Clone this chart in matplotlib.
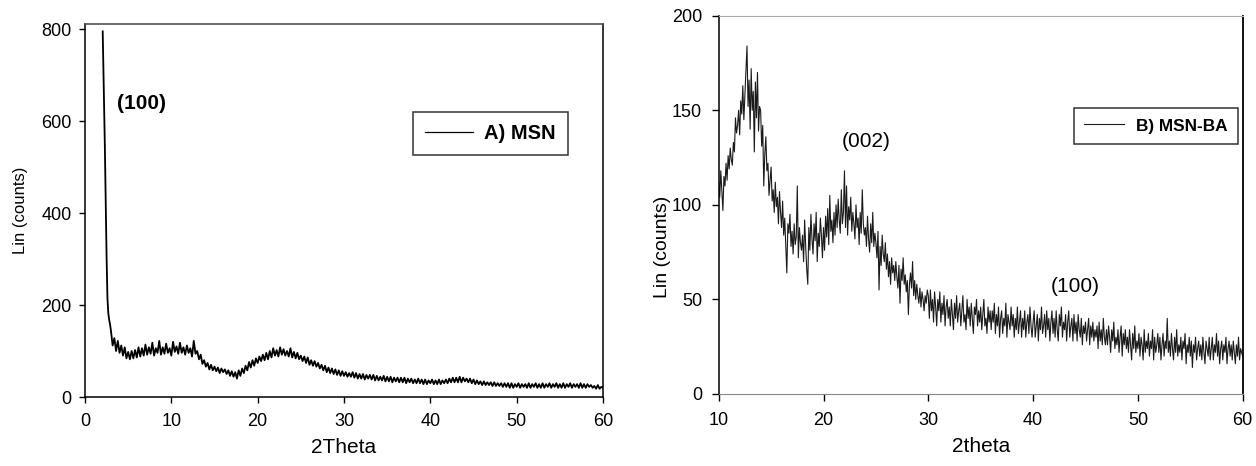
import numpy as np
import matplotlib
matplotlib.use("Agg")
import matplotlib.pyplot as plt

plt.rcParams['font.family'] = ['Liberation Sans', 'DejaVu Sans']

# ---------------- Panel A : MSN ----------------
msn_head_x = [2.05, 2.1, 2.2, 2.3, 2.4, 2.5, 2.6, 2.7, 2.8, 2.9]
msn_head_y = [795, 745, 655, 545, 425, 305, 215, 182, 168, 158]
msn_x_start, msn_x_step = 3.0, 0.2
msn_y = [
    145, 112, 128, 100, 122, 96, 112, 90, 108, 84,        # 3.0-4.8
    98, 82, 100, 84, 102, 86, 108, 88, 106, 90,           # 5.0-6.8
    114, 92, 108, 94, 118, 90, 106, 96, 122, 92,          # 7.0-8.8
    108, 94, 116, 96, 106, 90, 120, 98, 110, 94,          # 9.0-10.8
    118, 96, 108, 92, 112, 96, 106, 88, 122, 94,          # 11.0-12.8
    100, 82, 92, 72, 80, 66, 74, 60, 70, 58,              # 13.0-14.8
    66, 56, 64, 52, 62, 54, 60, 50, 58, 46,               # 15.0-16.8
    56, 44, 54, 40, 58, 46, 62, 52, 68, 58,               # 17.0-18.8
    76, 64, 80, 68, 84, 74, 88, 78, 92, 80,               # 19.0-20.8
    96, 82, 100, 86, 106, 90, 102, 88, 108, 92,           # 21.0-22.8
    104, 90, 100, 88, 106, 86, 98, 84, 96, 82,            # 23.0-24.8
    90, 78, 88, 74, 86, 70, 80, 68, 78, 66,               # 25.0-26.8
    74, 62, 70, 58, 68, 54, 64, 52, 62, 50,               # 27.0-28.8
    60, 48, 58, 46, 56, 46, 54, 44, 52, 44,               # 29.0-30.8
    54, 42, 52, 40, 50, 40, 50, 38, 48, 40,               # 31.0-32.8
    48, 38, 48, 36, 46, 36, 44, 36, 46, 34,               # 33.0-34.8
    44, 34, 44, 32, 42, 34, 42, 32, 42, 32,               # 35.0-36.8
    42, 30, 40, 32, 40, 30, 38, 30, 40, 30,               # 37.0-38.8
    38, 28, 38, 28, 36, 30, 38, 28, 36, 28,               # 39.0-40.8
    38, 28, 36, 30, 38, 30, 40, 32, 42, 32,               # 41.0-42.8
    42, 32, 44, 32, 42, 34, 40, 32, 40, 30,               # 43.0-44.8
    38, 28, 36, 28, 34, 26, 34, 26, 32, 26,               # 45.0-46.8
    32, 24, 32, 24, 30, 24, 30, 22, 30, 22,               # 47.0-48.8
    30, 20, 30, 20, 28, 22, 30, 20, 28, 22,               # 49.0-50.8
    28, 20, 30, 20, 28, 22, 30, 20, 28, 20,               # 51.0-52.8
    30, 20, 28, 22, 30, 20, 28, 22, 30, 20,               # 53.0-54.8
    28, 20, 30, 20, 28, 22, 30, 20, 28, 22,               # 55.0-56.8
    28, 20, 30, 20, 28, 20, 28, 22, 26, 20,               # 57.0-58.8
    24, 18, 26, 18, 22, 20,                               # 59.0-60.0
]

# ---------------- Panel B : MSN-BA ----------------
ba_x_start, ba_x_step = 10.0, 0.1
ba_y = [
    112, 104, 118, 107, 97, 115, 110, 122, 113, 126,      # 10
    119, 130, 124, 121, 133, 128, 146, 138, 142, 150,     # 11
    137, 155, 148, 163, 145, 158, 171, 184, 152, 166,     # 12
    140, 172, 150, 160, 128, 165, 146, 170, 139, 152,     # 13
    150, 131, 142, 110, 127, 136, 118, 122, 105, 113,     # 14
    120, 102, 108, 96, 112, 99, 104, 90, 107, 96,         # 15
    88, 102, 84, 93, 79, 64, 90, 85, 95, 78,              # 16
    86, 74, 90, 79, 83, 110, 72, 88, 80, 76,              # 17
    84, 70, 92, 78, 66, 58, 88, 76, 95, 82,               # 18
    74, 90, 81, 96, 70, 85, 78, 93, 84, 72,               # 19
    88, 76, 94, 83, 98, 79, 105, 86, 92, 80,              # 20
    96, 84, 100, 88, 103, 92, 85, 108, 90, 96,            # 21
    118, 88, 110, 84, 99, 92, 104, 86, 96, 90,            # 22
    82, 100, 88, 93, 79, 96, 85, 108, 90, 84,             # 23
    88, 78, 94, 82, 75, 90, 80, 96, 78, 85,               # 24
    80, 72, 86, 55, 78, 68, 84, 74, 70, 80,               # 25
    66, 74, 62, 70, 58, 72, 64, 68, 60, 70,               # 26
    62, 56, 68, 48, 66, 60, 72, 58, 63, 54,               # 27
    60, 42, 58, 64, 56, 70, 52, 60, 50, 58,               # 28
    52, 48, 56, 46, 54, 50, 44, 52, 48, 55,               # 29
    52, 40, 55, 44, 50, 38, 54, 46, 36, 50,               # 30
    44, 54, 38, 48, 42, 52, 36, 46, 50, 40,               # 31
    46, 36, 50, 42, 34, 48, 40, 52, 38, 44,               # 32
    48, 36, 44, 52, 38, 42, 34, 50, 40, 46,               # 33
    36, 48, 40, 32, 46, 42, 50, 36, 44, 38,               # 34
    46, 34, 42, 50, 36, 40, 32, 46, 38, 44,               # 35
    34, 44, 38, 48, 32, 42, 36, 46, 30, 40,               # 36
    44, 32, 40, 36, 48, 30, 42, 38, 34, 46,               # 37
    36, 42, 30, 40, 34, 46, 32, 38, 44, 30,               # 38
    40, 34, 44, 30, 38, 42, 32, 46, 36, 30,               # 39
    38, 44, 30, 36, 42, 28, 40, 34, 46, 32,               # 40
    36, 42, 30, 44, 34, 40, 28, 38, 44, 32,               # 41
    40, 30, 44, 34, 28, 42, 36, 46, 30, 38,               # 42
    34, 42, 28, 38, 44, 30, 36, 40, 28, 42,               # 43
    32, 38, 28, 42, 34, 30, 40, 26, 36, 32,               # 44
    38, 28, 34, 40, 26, 36, 30, 38, 28, 34,               # 45
    30, 36, 24, 38, 28, 34, 26, 40, 30, 26,               # 46
    34, 26, 36, 30, 22, 34, 28, 38, 24, 30,               # 47
    26, 34, 22, 30, 36, 20, 32, 26, 34, 24,               # 48
    30, 22, 34, 26, 18, 32, 24, 36, 22, 28,               # 49
    24, 32, 20, 30, 26, 18, 34, 22, 28, 24,               # 50
    32, 20, 28, 24, 34, 18, 30, 22, 26, 32,               # 51
    22, 30, 18, 26, 32, 20, 28, 24, 40, 22,               # 52
    28, 20, 32, 24, 18, 30, 22, 34, 20, 26,               # 53
    22, 30, 18, 28, 24, 32, 16, 26, 22, 30,               # 54
    20, 28, 14, 26, 22, 30, 18, 24, 28, 20,               # 55
    26, 18, 30, 22, 16, 28, 24, 20, 30, 18,               # 56
    24, 30, 18, 26, 22, 32, 20, 28, 16, 24,               # 57
    28, 18, 26, 22, 30, 16, 24, 28, 20, 26,               # 58
    18, 28, 22, 16, 26, 20, 30, 18, 24, 22,               # 59
    20,                                                   # 60
]

msn_x = np.concatenate([msn_head_x, msn_x_start + msn_x_step * np.arange(len(msn_y))])
msn_all = np.concatenate([msn_head_y, msn_y])
ba_x = ba_x_start + ba_x_step * np.arange(len(ba_y))

W, H = 1256, 466
fig = plt.figure(figsize=(W / 100, H / 100), dpi=100)

def rect(x0, y0, x1, y1):
    return [x0 / W, 1 - y1 / H, (x1 - x0) / W, (y1 - y0) / H]

# ---- Left axes
ax1 = fig.add_axes(rect(85, 24, 603, 397))
ax1.plot(msn_x, msn_all, color='black', lw=1.3, label='A) MSN')
ax1.set_xlim(0, 60)
ax1.set_ylim(0, 811)
ax1.set_xticks([0, 10, 20, 30, 40, 50, 60])
ax1.set_yticks([0, 200, 400, 600, 800])
ax1.tick_params(direction='out', length=4.5, width=1, labelsize=13, pad=5, colors='black')
ax1.tick_params(axis='x', pad=7)
for s in ['left', 'bottom', 'right']:
    ax1.spines[s].set_color('black')
    ax1.spines[s].set_linewidth(1.1)
ax1.spines['top'].set_color('#444444')
ax1.spines['top'].set_linewidth(1.1)
ax1.set_xlabel('2Theta', fontsize=15, labelpad=6)
ax1.set_ylabel('Lin (counts)', fontsize=12, labelpad=10)
ax1.text(6.5, 639, '(100)', fontsize=15, fontweight='bold', ha='center', va='center')
leg1 = ax1.legend(loc='center', bbox_to_anchor=(0.7825, 0.7065), frameon=True, fancybox=False,
                  handlelength=2.4, handletextpad=0.55, borderpad=0.6,
                  prop={'size': 14.5, 'weight': 'bold'})
leg1.get_frame().set_edgecolor('black')
leg1.get_frame().set_linewidth(1.1)
leg1.get_lines()[0].set_linewidth(0.9)

# ---- Right axes
ax2 = fig.add_axes(rect(718.7, 15.7, 1242.7, 394))
ax2.plot(ba_x, ba_y, color='#1a1a1a', lw=0.8, label='B) MSN-BA')
ax2.set_xlim(10, 60)
ax2.set_ylim(0, 200)
ax2.set_xticks([10, 20, 30, 40, 50, 60])
ax2.set_yticks([0, 50, 100, 150, 200])
ax2.tick_params(direction='out', length=5, width=1, labelsize=13, pad=7, colors='black')
ax2.tick_params(axis='x', pad=8)
ax2.spines['left'].set_color('black')
ax2.spines['right'].set_color('black')
ax2.spines['left'].set_linewidth(1.1)
ax2.spines['right'].set_linewidth(1.3)
ax2.spines['top'].set_color('#aaaaaa')
ax2.spines['bottom'].set_color('#888888')
ax2.set_xlabel('2theta', fontsize=15, labelpad=6)
ax2.set_ylabel('Lin (counts)', fontsize=14)
ax2.yaxis.set_label_coords(-0.0916, 0.389)
ax2.text(24.1, 133.4, '(002)', fontsize=15, ha='center', va='center')
ax2.text(44.0, 56.7, '(100)', fontsize=15, ha='center', va='center')
leg2 = ax2.legend(loc='center', bbox_to_anchor=(0.8345, 0.7085), frameon=True, fancybox=False,
                  handlelength=2.3, handletextpad=0.7, borderpad=0.6,
                  prop={'size': 12.4, 'weight': 'bold'})
leg2.get_frame().set_edgecolor('black')
leg2.get_frame().set_linewidth(1.1)
leg2.get_lines()[0].set_linewidth(0.8)

fig.savefig('out.png', dpi=100)
